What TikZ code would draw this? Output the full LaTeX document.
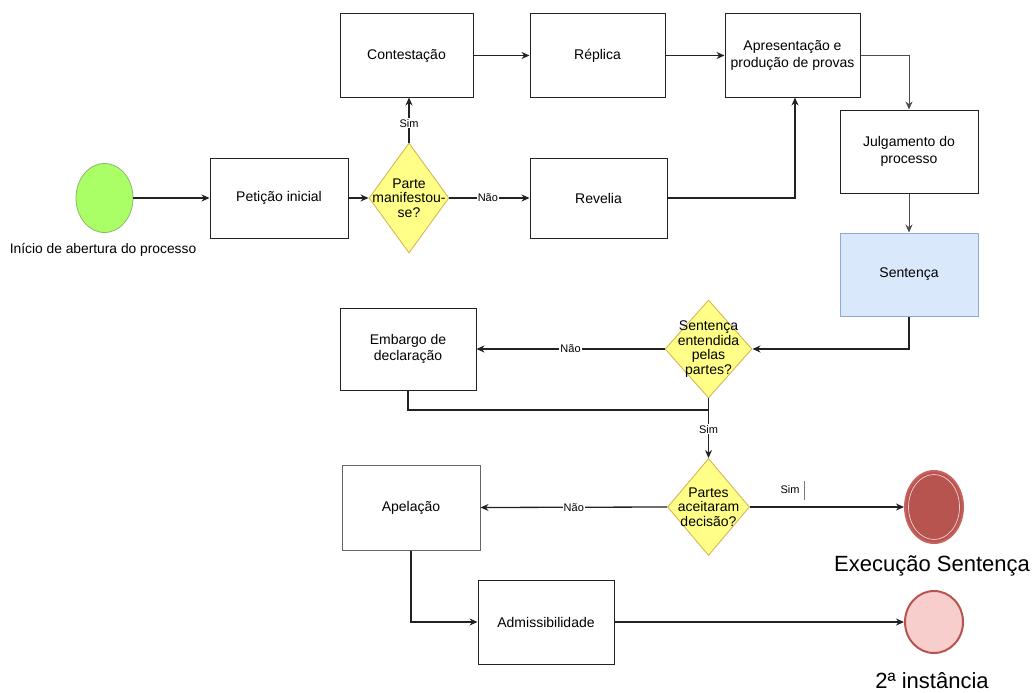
\documentclass[tikz,border=0pt]{standalone}
\usepackage{fontspec}
\setmainfont{Liberation Sans}
\usetikzlibrary{shapes.geometric,arrows.meta}
\definecolor{lineclr}{HTML}{222222}
\definecolor{startfill}{HTML}{AAFF66}
\definecolor{startdraw}{HTML}{8CB86A}
\definecolor{decfill}{HTML}{FFFF88}
\definecolor{decdraw}{HTML}{D6B656}
\definecolor{sentfill}{HTML}{DAE8FC}
\definecolor{sentdraw}{HTML}{8EA9D6}
\definecolor{endfill}{HTML}{B85450}
\definecolor{enddraw}{HTML}{C8625E}
\definecolor{instfill}{HTML}{F8CECC}
\tikzset{
  box/.style={draw=lineclr, line width=1pt, fill=white, align=center,
    font=\fontsize{14}{16.5}\selectfont, inner sep=2pt},
  decision/.style={diamond, draw=decdraw, line width=0.9pt, fill=decfill, inner sep=0pt},
  dectext/.style={align=center, inner sep=0pt, font=\fontsize{14}{14.5}\selectfont},
  flow/.style={draw=lineclr, line width=1.3pt, -{Stealth[length=8pt,width=7pt]}},
  thinflow/.style={draw=lineclr!80, line width=0.8pt, -{Stealth[length=8pt,width=7pt]}},
  lbl/.style={fill=white, inner sep=1pt, font=\fontsize{11}{12}\selectfont},
  endlbl/.style={font=\fontsize{22}{25}\selectfont}
}
\begin{document}
\begin{tikzpicture}[x=1pt, y=-1pt]
\useasboundingbox (0,0) rectangle (1033,693);

% start event
\node[ellipse, draw=startdraw, line width=0.8pt, fill=startfill,
  minimum width=57pt, minimum height=69pt] (start) at (104.5,198) {};
\node[font=\fontsize{13.8}{16}\selectfont] (startlbl) at (103,250) {Início de abertura do processo};

% process boxes
\node[box, minimum width=138pt, minimum height=80pt] (pet) at (279,198) {Petição inicial};
\node[box, minimum width=133pt, minimum height=83pt] (contest) at (406.5,55.5) {Contestação};
\node[box, minimum width=135pt, minimum height=83pt] (replica) at (597.5,55.5) {Réplica};
\node[box, minimum width=135pt, minimum height=83pt] (apres) at (792.5,55.5) {Apresentação e\\produção de provas};
\node[box, minimum width=137pt, minimum height=80pt] (revelia) at (598.5,198) {Revelia};
\node[box, minimum width=138pt, minimum height=83pt] (julg) at (909,151.5) {Julgamento do\\processo};
\node[box, draw=sentdraw, fill=sentfill, minimum width=138pt, minimum height=83pt] (sent) at (909,274.5) {Sentença};
\node[box, minimum width=136pt, minimum height=82pt] (embargo) at (408,349) {Embargo de\\declaração};
\node[box, draw=lineclr!70, minimum width=138pt, minimum height=85pt] (apel) at (411,507.5) {Apelação};
\node[box, minimum width=136pt, minimum height=84pt] (admis) at (546,622) {Admissibilidade};

% decisions: fixed-size diamonds, text set on top
\node[decision, minimum width=80pt, minimum height=110pt] (d1) at (409,198) {};
\node[dectext] (d1txt) at (d1.center) {Parte\\manifestou-\\se?};
\node[decision, minimum width=87pt, minimum height=98pt] (d2) at (708.5,349) {};
\node[dectext] (d2txt) at (d2.center) {Sentença\\entendida\\pelas\\partes?};
\node[decision, minimum width=82pt, minimum height=97pt] (d3) at (708.5,507) {};
\node[dectext] (d3txt) at (d3.center) {Partes\\aceitaram\\decisão?};

% end events
\node[ellipse, draw=enddraw, line width=2pt, fill=endfill,
  minimum width=58pt, minimum height=72pt] (exec) at (934,507) {};
\draw[white!75!endfill, line width=0.7pt] (exec.center) ellipse[x radius=25.5pt, y radius=32.5pt];
\node[endlbl] (execlbl) at (932,566) {Execução Sentença};
\node[ellipse, draw=endfill, line width=2pt, fill=instfill,
  minimum width=58pt, minimum height=62pt] (inst) at (934,622) {};
\node[endlbl] (instlbl) at (932,681) {2ª instância};

% connectors
\draw[flow] (start) -- (pet);
\draw[flow] (pet) -- (d1);
\draw[flow] (d1.north) -- node[lbl, pos=0.43]{Sim} (d1.north |- contest.south);
\draw[flow] (d1.east) -- node[lbl, pos=0.48]{Não} (revelia.west);
\draw[flow] (contest) -- (replica);
\draw[flow] (replica) -- (apres);
\draw[flow] (revelia.east) -| ([xshift=2.5pt]apres.south);
\draw[thinflow] (apres.east) -| (julg.north);
\draw[thinflow] (julg) -- (sent);
\draw[flow] (sent.south) |- (d2.east);
\draw[flow] (d2.west) -- node[lbl]{Não} (embargo.east);
\coordinate (join) at (708.5,410);
\draw[draw=lineclr, line width=1.3pt] (embargo.south) |- (join);
\draw[flow] (d2.south) -- node[lbl, pos=0.52]{Sim} (d3.north);
\draw[flow] (d3.west) -- node[lbl]{Não} (apel.east);
\draw[flow] (d3.east) -- node[pos=0.26, above=12pt, font=\fontsize{11}{12}\selectfont, inner sep=1pt] (simlbl) {Sim} (exec.west);
\draw[lineclr!60, line width=0.5pt] ([xshift=3pt,yshift=3pt]simlbl.north east) -- ([xshift=3pt,yshift=-5pt]simlbl.south east);
\draw[flow] (apel.south) |- (admis.west);
\draw[flow] (admis.east) -- (inst.west);
\end{tikzpicture}
\end{document}
